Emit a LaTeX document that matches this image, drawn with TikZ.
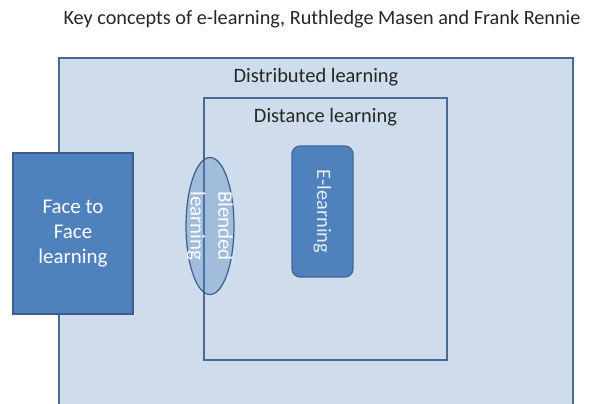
\documentclass[tikz,border=0pt]{standalone}
\usepackage{fontspec}
\setmainfont{Carlito}
\usepackage{tikz}
\usetikzlibrary{shapes.geometric, positioning, calc}
\usepackage{xcolor}
\definecolor{paleblue}{HTML}{CFDCEC}
\definecolor{edgeblue}{HTML}{4A6A94}
\definecolor{midblue}{HTML}{4F81BD}
\definecolor{darkblue}{HTML}{3A5F8C}

\tikzset{
  areabox/.style={rectangle, draw=edgeblue, line width=1.3pt, inner sep=0pt},
  solidbox/.style={rectangle, draw=darkblue, fill=midblue, line width=1.2pt,
                   text=white, font=\fontsize{21}{25}\selectfont, align=center, inner sep=0pt},
  areatext/.style={font=\fontsize{20.5}{24}\selectfont, text=black!85, inner sep=0pt}
}

\begin{document}
\begin{tikzpicture}[x=1bp, y=-1bp]
\useasboundingbox[fill=white] (0,0) rectangle (603,403);

\node[font=\fontsize{20.3}{24}\selectfont, text=black!85] (title) at (322,19)
  {Key concepts of e-learning, Ruthledge Masen and Frank Rennie};

\node[areabox, fill=paleblue, minimum width=514bp, minimum height=354bp] (distrib) at (316,235) {};
\node[areatext] (distribtext) at ($(distrib.north)+(0,20)$) {Distributed learning};

\node[areabox, minimum width=243bp, minimum height=262bp] (distance) at (325.5,229) {};
\node[areatext] (distancetext) at ($(distance.north)+(0,20)$) {Distance learning};

\node[solidbox, minimum width=120bp, minimum height=161bp] (facebox) at (73,233.5)
  {Face to\\Face\\learning};

\node[ellipse, draw=darkblue, line width=1.2pt, fill=midblue, fill opacity=0.35,
      text opacity=1, minimum width=48bp, minimum height=137bp, inner sep=0pt] (blended) at (210,226) {};
\node[rotate=-90, text=white, font=\fontsize{21}{28}\selectfont, align=center] (blendedtext)
  at (blended.center) {Blended\\learning};

\node[solidbox, rounded corners=8bp, draw=midblue!80!black, minimum width=61bp, minimum height=131bp]
  (elearn) at (322.5,211.5) {};
\node[rotate=-90, text=white!85!midblue, font=\fontsize{20.5}{24}\selectfont] (elearntext)
  at (elearn.center) {E-learning};
\end{tikzpicture}
\end{document}
